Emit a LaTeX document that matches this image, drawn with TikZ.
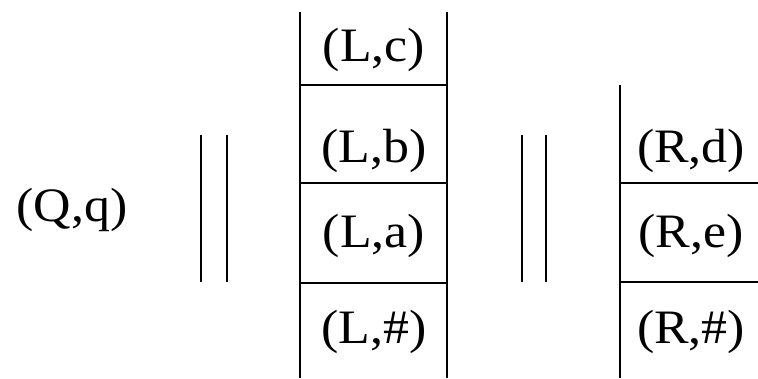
\documentclass[tikz,border=0pt]{standalone}
\usepackage{fontspec}
\setmainfont{Liberation Serif}
\newcommand{\wlbl}[1]{\scalebox{1.08}[1]{#1}}
\begin{document}
\begin{tikzpicture}[x=1pt,y=-1pt,
  lbl/.style={font=\fontsize{48}{56}\selectfont, inner sep=0pt},
  rule/.style={line width=1.5pt}]
\useasboundingbox (0,0) rectangle (758,378);
% left stack
\draw[rule] (300,12) -- (300,378);
\draw[rule] (447,12) -- (447,378);
\draw[rule] (300,85) -- (447,85);
\draw[rule] (300,183) -- (447,183);
\draw[rule] (300,283) -- (447,283);
% right stack
\draw[rule] (620,85) -- (620,378);
\draw[rule] (620,183) -- (758,183);
\draw[rule] (620,282) -- (758,282);
% double bars
\draw[rule] (201,135) -- (201,282);
\draw[rule] (227,135) -- (227,282);
\draw[rule] (522,135) -- (522,282);
\draw[rule] (546,135) -- (546,282);
% labels
\node[lbl] (qq) at (72,210) {\wlbl{(Q,q)}};
\node[lbl] (lc) at (374,50) {\wlbl{(L,c)}};
\node[lbl] (lb) at (374,151) {\wlbl{(L,b)}};
\node[lbl] (la) at (374,236) {\wlbl{(L,a)}};
\node[lbl] (lh) at (374,332) {\wlbl{(L,\#)}};
\node[lbl] (rd) at (691,151) {\wlbl{(R,d)}};
\node[lbl] (re) at (691,236) {\wlbl{(R,e)}};
\node[lbl] (rh) at (691,332) {\wlbl{(R,\#)}};
\end{tikzpicture}
\end{document}
